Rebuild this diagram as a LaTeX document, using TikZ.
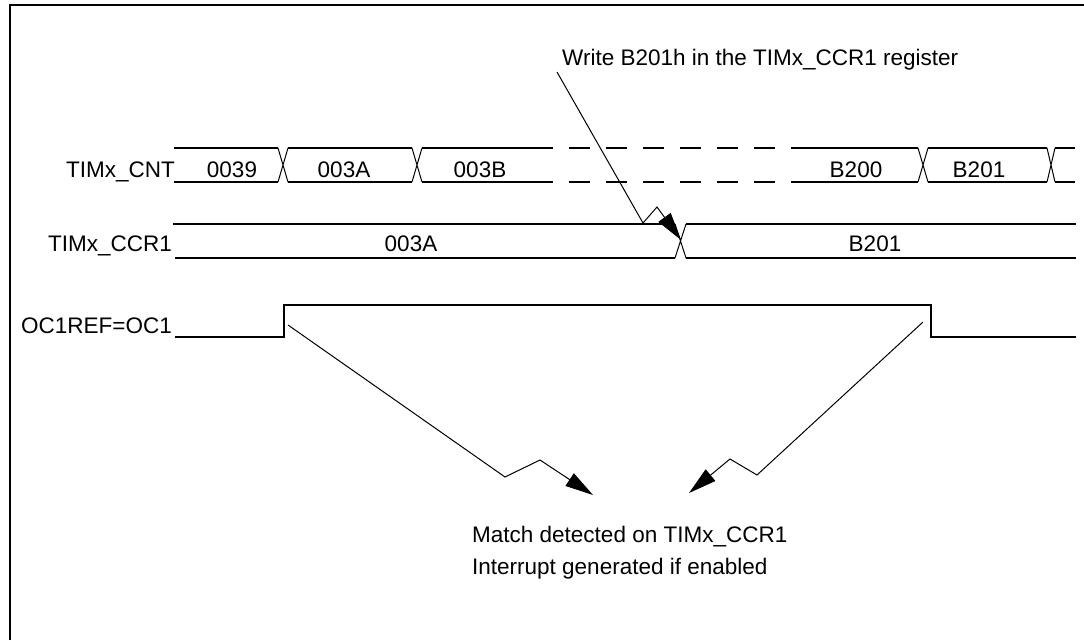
\documentclass[tikz,border=0pt]{standalone}
\usepackage{fontspec}
\setmainfont{Liberation Sans}
\usetikzlibrary{arrows.meta}
\begin{document}
\begin{tikzpicture}[x=1pt,y=-1pt,
  sig/.style={line width=2pt},
  trans/.style={line width=1pt},
  ann/.style={line width=1pt,-{Triangle[length=28pt,width=15pt]}},
  txt/.style={font=\fontsize{22.5}{27}\selectfont, inner sep=0pt},
  frame/.style={line width=2.2pt},
  dashbus/.style={line width=2pt, dash pattern=on 21pt off 16pt, dash phase=21pt}]
\useasboundingbox (0,0) rectangle (1084,640);
% frame
\draw[frame] (10,640) -- (10,5) -- (1084,5);

% ---- TIMx_CNT bus ----
\node[txt, anchor=base east] (lcnt) at (175,177) {TIMx\_CNT};
\draw[sig] (174,148) -- (278,148) (174,182) -- (278,182);
\draw[trans] (278,148) -- (288,182) (278,182) -- (288,148);
\draw[sig] (288,148) -- (412,148) (288,182) -- (412,182);
\draw[trans] (412,148) -- (422,182) (412,182) -- (422,148);
\draw[sig] (422,148) -- (553,148) (422,182) -- (553,182);
\draw[dashbus] (553,148) -- (795,148) (553,182) -- (795,182);
\draw[sig] (795,148) -- (918,148) (795,182) -- (918,182);
\draw[trans] (918,148) -- (928,182) (918,182) -- (928,148);
\draw[sig] (928,148) -- (1047,148) (928,182) -- (1047,182);
\draw[trans] (1047,148) -- (1055,182) (1047,182) -- (1055,148);
\draw[sig] (1055,148) -- (1075,148) (1055,182) -- (1075,182);
\node[txt, anchor=base] (c0039) at (232,177) {0039};
\node[txt, anchor=base] (c003A) at (344,177) {003A};
\node[txt, anchor=base] (c003B) at (480,177) {003B};
\node[txt, anchor=base] (cB200) at (856,177) {B200};
\node[txt, anchor=base] (cB201) at (979,177) {B201};

% ---- TIMx_CCR1 bus ----
\node[txt, anchor=base east] (lccr) at (172,251) {TIMx\_CCR1};
\draw[sig] (173,224) -- (675,224) (175,258) -- (675,258);
\draw[trans] (675,224) -- (686,258) (675,258) -- (686,224);
\draw[sig] (686,224) -- (1076,224) (686,258) -- (1076,258);
\node[txt, anchor=base] (r003A) at (411,251) {003A};
\node[txt, anchor=base] (rB201) at (875,251) {B201};

% ---- OC1REF ----
\node[txt, anchor=base east] (loc) at (172,333) {OC1REF=OC1};
\draw[sig] (175,337) -- (284,337) -- (284,305) -- (931,305) -- (931,337) -- (1076,337);

% ---- annotations ----
\node[txt, anchor=base west] (write) at (562,65) {Write B201h in the TIMx\_CCR1 register};
\node[txt, anchor=base west] (match) at (472,542) {Match detected on TIMx\_CCR1};
\node[txt, anchor=base west] (intr) at (472,574) {Interrupt generated if enabled};

\coordinate (w0) at (557,72);
\coordinate (w1) at (643,223);
\coordinate (w2) at (657,207);
\coordinate (w3) at (681,240);
\draw[ann] (w0) -- (w1) -- (w2) -- (w3);

\coordinate (a0) at (288,325);
\coordinate (a1) at (505,477);
\coordinate (a2) at (540,460);
\coordinate (a3) at (593,495);
\draw[ann] (a0) -- (a1) -- (a2) -- (a3);

\coordinate (b0) at (923,322);
\coordinate (b1) at (757,475);
\coordinate (b2) at (730,459);
\coordinate (b3) at (689,493);
\draw[ann] (b0) -- (b1) -- (b2) -- (b3);
\end{tikzpicture}
\end{document}
